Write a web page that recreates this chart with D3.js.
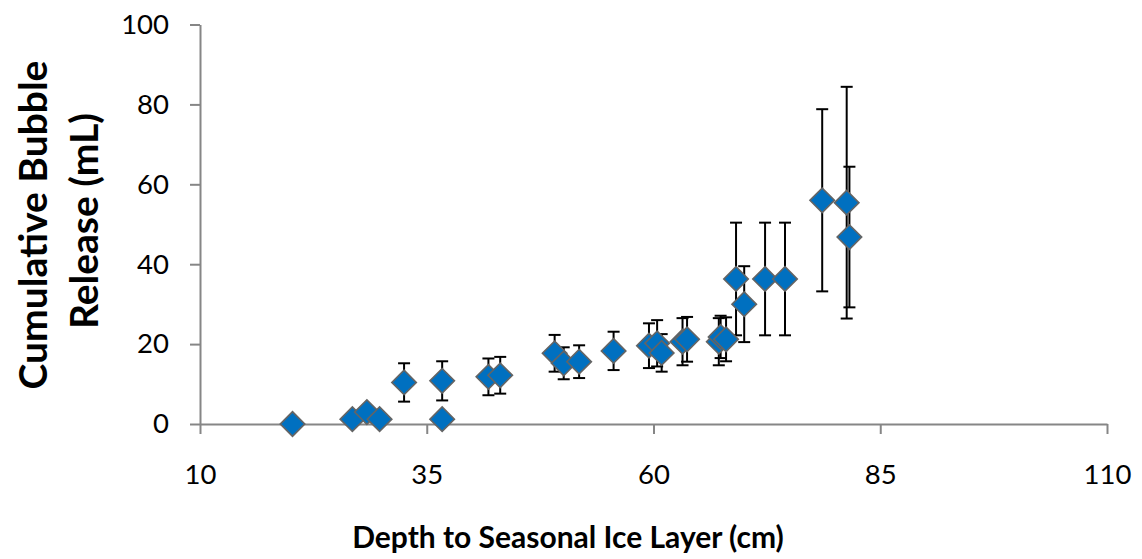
<!DOCTYPE html>
<html>
<head>
<meta charset="utf-8">
<script src="https://cdn.jsdelivr.net/npm/d3@7"></script>
<style>
  html, body { margin: 0; padding: 0; background: #fff; }
  svg { display: block; }
  text { font-family: Lato, "Open Sans", sans-serif; fill: #000; }
</style>
</head>
<body>
<svg id="chart" width="1142" height="559"></svg>
<script>
// Depth to seasonal ice layer (cm)
const depth = [20.2, 26.8, 28.4, 29.8, 32.5, 36.7, 36.7, 41.8, 43.1, 49.1, 50.1, 51.8, 55.6,
               59.5, 60.4, 60.9, 63.2, 63.7, 67.2, 67.4, 68.0, 69.1, 70.0, 72.3, 74.5,
               78.6, 81.3, 81.6];
// Cumulative bubble release (mL)
const release = [0, 1.2, 3.0, 1.2, 10.4, 1.2, 10.8, 11.8, 12.2, 17.7, 15.2, 15.6, 18.3,
                 19.6, 20.2, 17.8, 20.6, 21.2, 20.6, 21.8, 21.2, 36.3, 30.0, 36.3, 36.3,
                 56.0, 55.4, 46.8];
// Error (± mL)
const releaseErr = [0, 0, 0, 0, 4.8, 0, 4.9, 4.6, 4.6, 4.6, 4.0, 4.1, 4.8,
                    5.6, 5.8, 4.7, 5.9, 5.6, 5.9, 5.3, 5.5, 14.1, 9.5, 14.1, 14.1,
                    22.8, 29.0, 17.6];
const xTicks = [10, 35, 60, 85, 110];
const yTicks = [0, 20, 40, 60, 80, 100];

const points = depth.map((d, i) => ({ x: d, y: release[i], e: releaseErr[i] }));

const svg = d3.select("#chart");
const x = d3.scaleLinear().domain([10, 110]).range([200, 1107]);
const y = d3.scaleLinear().domain([0, 100]).range([424, 24.5]);

const axisColor = "#868686";

// Y axis
const gy = svg.append("g")
  .attr("transform", `translate(${x(10)},0)`)
  .call(d3.axisLeft(y).tickValues(yTicks).tickSize(10).tickSizeOuter(0).tickPadding(21));
// X axis
const gx = svg.append("g")
  .attr("transform", `translate(0,${y(0)})`)
  .call(d3.axisBottom(x).tickValues(xTicks).tickSize(10).tickSizeOuter(0).tickPadding(30));

[gx, gy].forEach(g => {
  g.select(".domain").attr("stroke", axisColor).attr("stroke-width", 2);
  g.selectAll(".tick line").attr("stroke", axisColor).attr("stroke-width", 2);
  g.selectAll(".tick text").style("font-size", "27.5px").attr("fill", "#000");
});

// Error bars
const eb = svg.append("g").attr("stroke", "#000").attr("stroke-width", 2);
points.filter(p => p.e > 0).forEach(p => {
  const cx = x(p.x);
  eb.append("line").attr("x1", cx).attr("x2", cx).attr("y1", y(p.y - p.e)).attr("y2", y(p.y + p.e));
  [p.y - p.e, p.y + p.e].forEach(v => {
    eb.append("line").attr("x1", cx - 6).attr("x2", cx + 6).attr("y1", y(v)).attr("y2", y(v));
  });
});

// Diamond markers
const diamond = d3.symbol().type(d3.symbolSquare).size(300);
svg.append("g").selectAll("path")
  .data(points)
  .join("path")
  .attr("d", diamond)
  .attr("transform", d => `translate(${x(d.x)},${y(d.y)}) rotate(45)`)
  .attr("fill", "#0070C0")
  .attr("stroke", "#646464")
  .attr("stroke-width", 1.6);

// Axis titles
svg.append("text")
  .attr("x", 568).attr("y", 548)
  .attr("text-anchor", "middle")
  .style("font-size", "30px").style("font-weight", "bold")
  .text("Depth to Seasonal Ice Layer (cm)");

const yt = svg.append("g").attr("transform", "translate(47,225) rotate(-90)");
yt.append("text").attr("x", 0).attr("y", 0)
  .attr("text-anchor", "middle")
  .style("font-size", "39px").style("font-weight", "bold")
  .text("Cumulative Bubble");
yt.append("text").attr("x", 4).attr("y", 51)
  .attr("text-anchor", "middle")
  .style("font-size", "39px").style("font-weight", "bold")
  .text("Release (mL)");
</script>
</body>
</html>
